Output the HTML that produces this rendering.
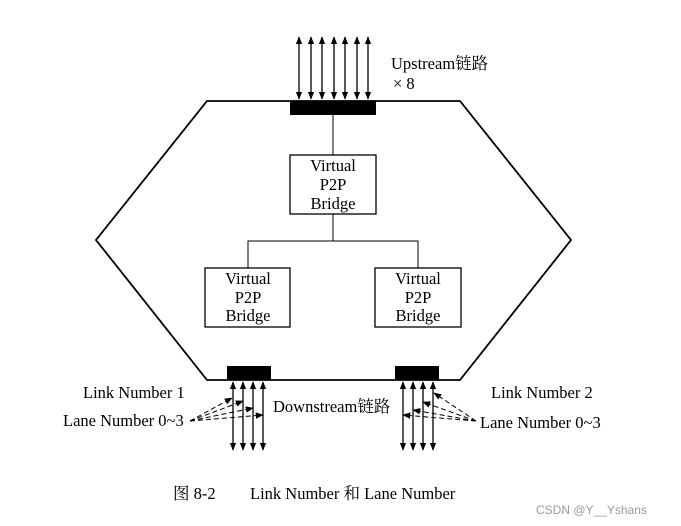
<!DOCTYPE html>
<html><head><meta charset="utf-8"><style>
html,body{margin:0;padding:0;background:#fff;width:681px;height:526px;overflow:hidden}
text{font-family:"Liberation Serif","Noto Serif CJK SC",serif;fill:#000}
</style></head><body>
<svg width="681" height="526" viewBox="0 0 681 526" xmlns="http://www.w3.org/2000/svg">
<defs>
<marker id="a" viewBox="0 0 10 10" refX="9" refY="5" markerWidth="8" markerHeight="8" orient="auto-start-reverse" markerUnits="userSpaceOnUse"><path d="M0,1 L10,5 L0,9 Z" fill="#000"/></marker>
</defs>
<g stroke="#000" stroke-width="1.8" fill="none">
<polygon points="207,101 460,101 571,240 460,380 207,380 96,240"/>
</g>
<rect x="290" y="101" width="86" height="14" fill="#000"/>
<rect x="227" y="366" width="44" height="14" fill="#000"/>
<rect x="395" y="366" width="44" height="14" fill="#000"/>
<g stroke="#000" stroke-width="1.3">
<line x1="299" y1="37" x2="299" y2="99" marker-start="url(#a)" marker-end="url(#a)"/>
<line x1="311" y1="37" x2="311" y2="99" marker-start="url(#a)" marker-end="url(#a)"/>
<line x1="322" y1="37" x2="322" y2="99" marker-start="url(#a)" marker-end="url(#a)"/>
<line x1="334" y1="37" x2="334" y2="99" marker-start="url(#a)" marker-end="url(#a)"/>
<line x1="345" y1="37" x2="345" y2="99" marker-start="url(#a)" marker-end="url(#a)"/>
<line x1="357" y1="37" x2="357" y2="99" marker-start="url(#a)" marker-end="url(#a)"/>
<line x1="368" y1="37" x2="368" y2="99" marker-start="url(#a)" marker-end="url(#a)"/>
<line x1="233" y1="382" x2="233" y2="450" marker-start="url(#a)" marker-end="url(#a)"/>
<line x1="243" y1="382" x2="243" y2="450" marker-start="url(#a)" marker-end="url(#a)"/>
<line x1="253" y1="382" x2="253" y2="450" marker-start="url(#a)" marker-end="url(#a)"/>
<line x1="263" y1="382" x2="263" y2="450" marker-start="url(#a)" marker-end="url(#a)"/>
<line x1="403" y1="382" x2="403" y2="450" marker-start="url(#a)" marker-end="url(#a)"/>
<line x1="413" y1="382" x2="413" y2="450" marker-start="url(#a)" marker-end="url(#a)"/>
<line x1="423" y1="382" x2="423" y2="450" marker-start="url(#a)" marker-end="url(#a)"/>
<line x1="433" y1="382" x2="433" y2="450" marker-start="url(#a)" marker-end="url(#a)"/>
</g>
<g stroke="#000" stroke-width="1" fill="none">
<line x1="333" y1="115" x2="333" y2="155"/>
<polyline points="333,214 333,241 248,241 248,268"/>
<polyline points="333,241 418,241 418,268"/>
</g>
<g stroke="#000" stroke-width="1.3" fill="#fff">
<rect x="290" y="155" width="86" height="59"/>
<rect x="205" y="268" width="85" height="59"/>
<rect x="375" y="268" width="86" height="59"/>
</g>
<g stroke="#000" stroke-width="1" stroke-dasharray="5,3">
<line x1="190" y1="421" x2="232" y2="398" marker-end="url(#a)"/>
<line x1="190" y1="421" x2="243" y2="401" marker-end="url(#a)"/>
<line x1="190" y1="421" x2="253" y2="408" marker-end="url(#a)"/>
<line x1="190" y1="421" x2="263" y2="415" marker-end="url(#a)"/>
<line x1="476" y1="421" x2="434" y2="393" marker-end="url(#a)"/>
<line x1="476" y1="421" x2="423" y2="402" marker-end="url(#a)"/>
<line x1="476" y1="421" x2="413" y2="410" marker-end="url(#a)"/>
<line x1="476" y1="421" x2="403" y2="415" marker-end="url(#a)"/>
</g>
<g font-size="16.5" text-anchor="middle">
<text x="333" y="171">Virtual</text><text x="333" y="190">P2P</text><text x="333" y="209">Bridge</text>
<text x="248" y="284">Virtual</text><text x="248" y="303">P2P</text><text x="248" y="321">Bridge</text>
<text x="418" y="284">Virtual</text><text x="418" y="303">P2P</text><text x="418" y="321">Bridge</text>
</g>
<g font-size="16.5">
<text x="391" y="69">Upstream链路</text>
<text x="393" y="89">× 8</text>
<text x="273" y="412">Downstream链路</text>
<text x="83" y="398">Link Number 1</text>
<text x="63" y="426">Lane Number 0~3</text>
<text x="491" y="398">Link Number 2</text>
<text x="480" y="428">Lane Number 0~3</text>
<text x="173" y="499">图 8-2</text>
<text x="250" y="499">Link Number 和 Lane Number</text>
</g>
<text x="536" y="514" font-size="12" style="font-family:'Liberation Sans',sans-serif;fill:#999">CSDN @Y__Yshans</text>
</svg>
</body></html>
